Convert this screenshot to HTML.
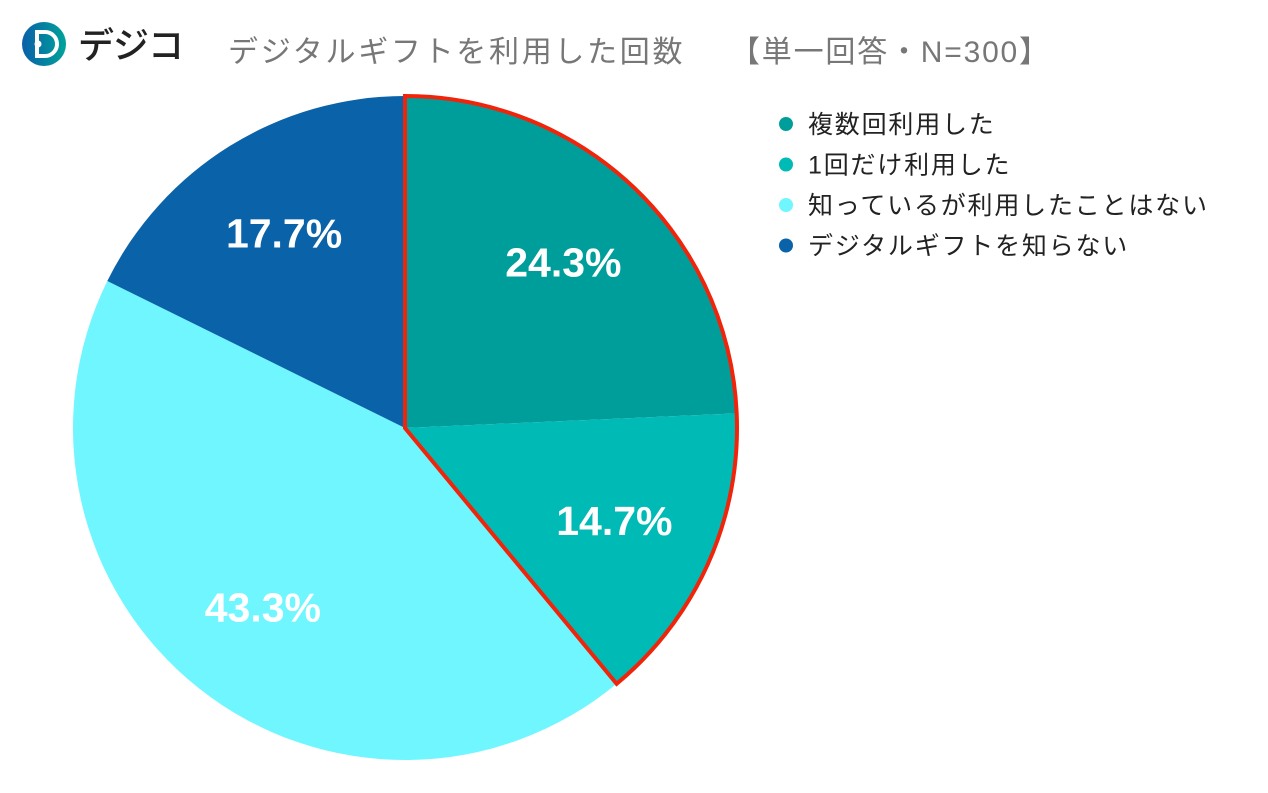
<!DOCTYPE html>
<html><head><meta charset="utf-8"><style>
body{margin:0;background:#fff;width:1268px;height:788px;overflow:hidden;font-family:"Liberation Sans","Noto Sans CJK JP",sans-serif}
</style></head><body>
<svg width="1268" height="788">
<defs><linearGradient id="lg" x1="0" x2="1"><stop offset="0" stop-color="#0a5fa8"/><stop offset="1" stop-color="#00a39a"/></linearGradient></defs>
<g>
<circle cx="44" cy="44" r="22" fill="url(#lg)"/>
<path d="M37 32 h8 a12 12 0 0 1 0 24 h-8 z" fill="none" stroke="#fff" stroke-width="4"/>
<circle cx="38" cy="44" r="3.5" fill="#fff"/>
<text x="78" y="58" font-size="36" font-weight="500" fill="#222" letter-spacing="-1">デジコ</text>
</g>
<text x="228" y="62" font-size="30" fill="#777" letter-spacing="2.7">デジタルギフトを利用した回数</text>
<text x="730" y="62" font-size="30" fill="#777" letter-spacing="1.8">【単一回答・N=300】</text>
<g id="pie"></g>
<g id="legend"></g>
</svg>
<script>
const categories=["複数回利用した","1回だけ利用した","知っているが利用したことはない","デジタルギフトを知らない"];
const values=[24.3,14.7,43.3,17.7];
const colors=["#009e9a","#00bab5","#70f6ff","#0a62a8"];
const cx=405,cy=428,r=332,NS="http://www.w3.org/2000/svg";
const pie=document.getElementById('pie'),leg=document.getElementById('legend');
const total=values.reduce((a,b)=>a+b,0);
const pt=(a,rr)=>[cx+rr*Math.sin(a),cy-rr*Math.cos(a)];
let a0=0;const angs=[];
values.forEach((v,i)=>{
 const a1=a0+v/total*2*Math.PI;angs.push([a0,a1]);
 const p0=pt(a0,r),p1=pt(a1,r);
 const p=document.createElementNS(NS,'path');
 p.setAttribute('d',`M${cx},${cy}L${p0}A${r},${r} 0 ${a1-a0>Math.PI?1:0} 1 ${p1}Z`);
 p.setAttribute('fill',colors[i]);
 
 
 pie.appendChild(p);
 const m=(a0+a1)/2,lp=pt(m,r*0.69);
 const t=document.createElementNS(NS,'text');
 t.setAttribute('x',lp[0]);t.setAttribute('y',lp[1]+14);
 t.setAttribute('text-anchor','middle');t.setAttribute('font-size','41');t.setAttribute('font-weight','bold');t.setAttribute('fill','#fff');
 t.textContent=v.toFixed(1)+'%';
 
 
 pie.appendChild(t);
 a0=a1;
});
const e=angs[1][1],q0=pt(0,r),q1=pt(e,r);
const o=document.createElementNS(NS,'path');
o.setAttribute('d',`M${cx},${cy}L${q0}A${r},${r} 0 ${e>Math.PI?1:0} 1 ${q1}Z`);
o.setAttribute('fill','none');o.setAttribute('stroke','#f0240a');o.setAttribute('stroke-width','4');


pie.appendChild(o);
categories.forEach((c,i)=>{
 const y=124+i*40.5;
 const d=document.createElementNS(NS,'circle');
 d.setAttribute('cx',786);d.setAttribute('cy',y);d.setAttribute('r',7);d.setAttribute('fill',colors[i]);
 
 
 leg.appendChild(d);
 const t=document.createElementNS(NS,'text');
 t.setAttribute('x',808);t.setAttribute('y',y+9);t.setAttribute('font-size','25');t.setAttribute('letter-spacing','1.8');t.setAttribute('fill','#222');
 t.textContent=c;
 
 
 leg.appendChild(t);
});
</script>
</body></html>
